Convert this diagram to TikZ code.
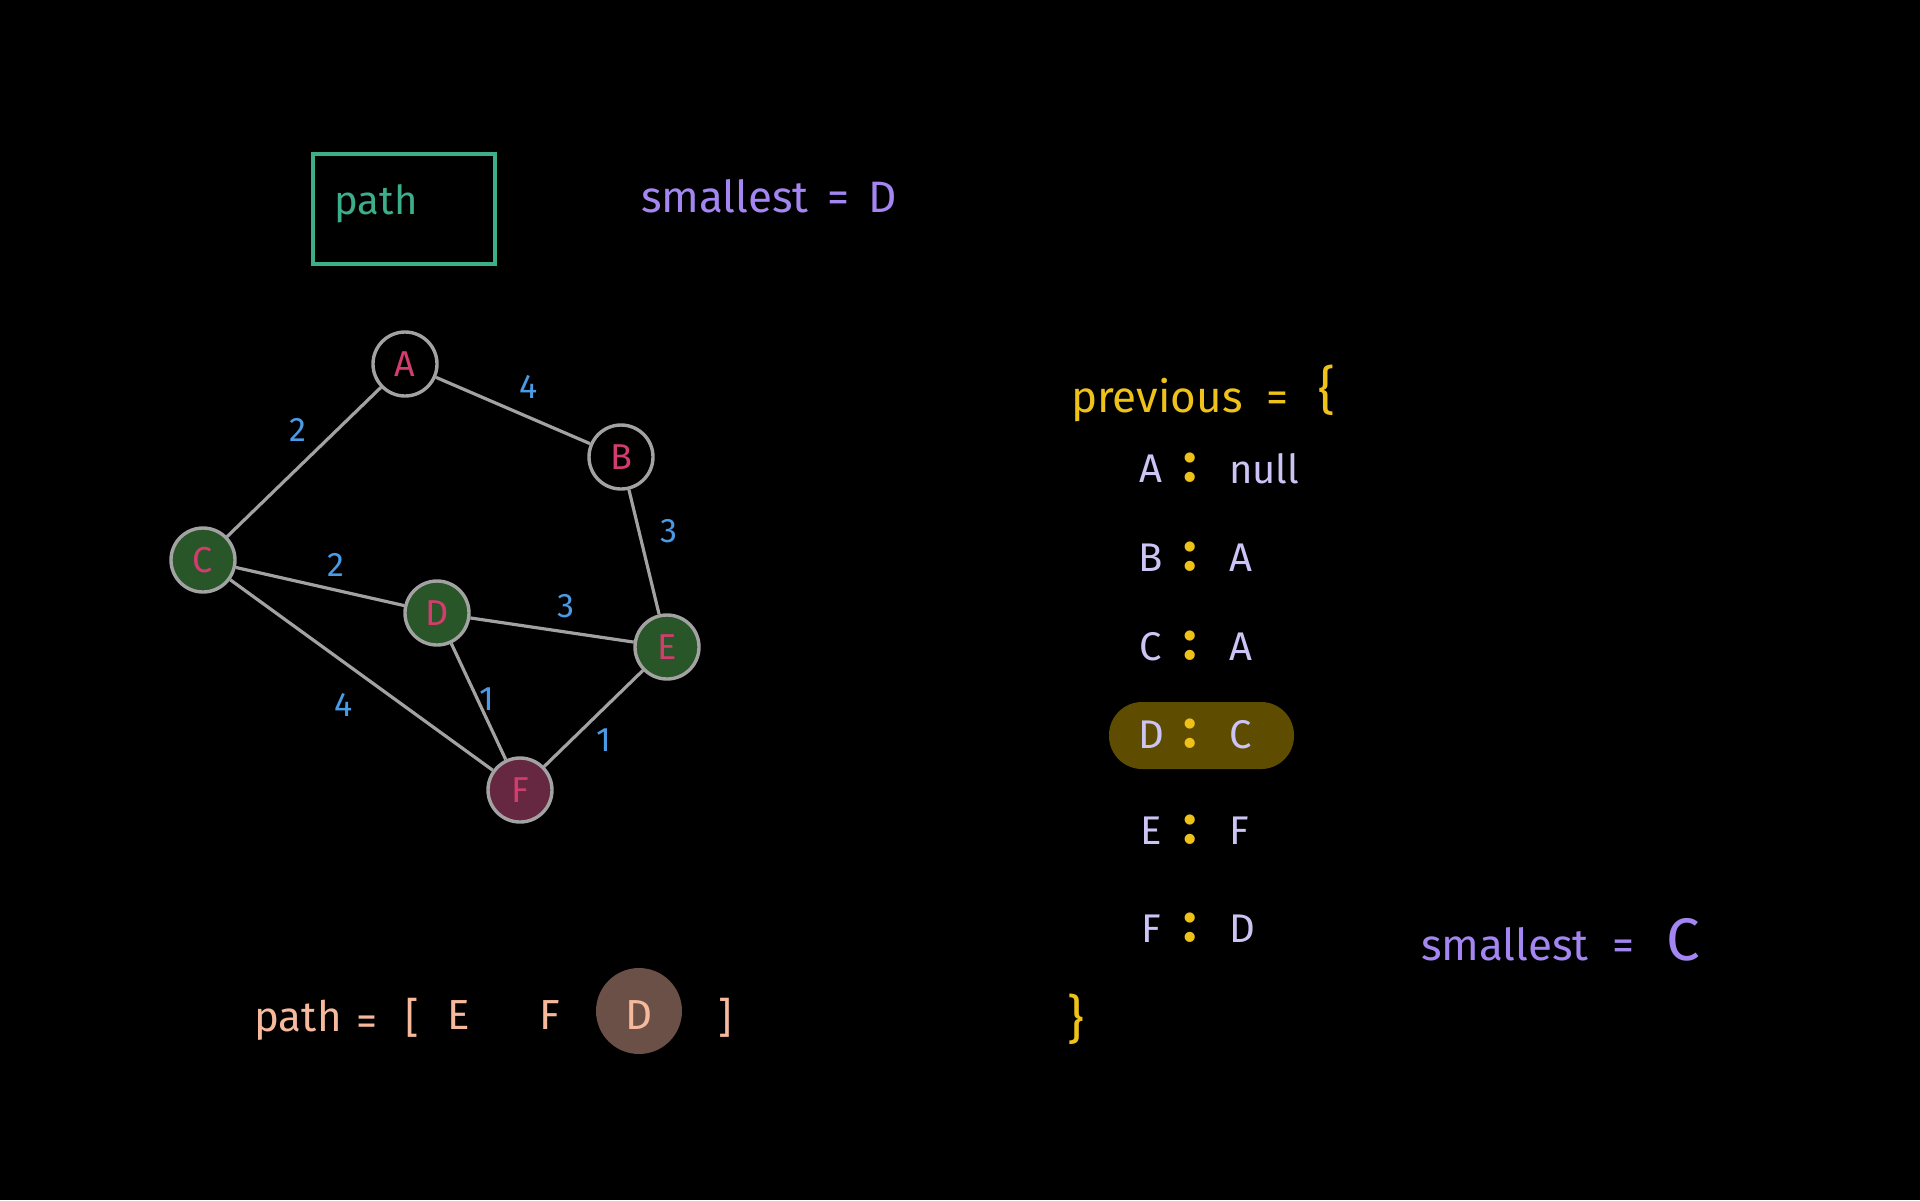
\documentclass[tikz,border=0pt]{standalone}
\usepackage{fontspec}
\setmainfont{Fira Sans}
\definecolor{edgegray}{HTML}{A2A2A2}
\definecolor{visitgreen}{HTML}{285628}
\definecolor{endwine}{HTML}{662840}
\definecolor{crimson}{HTML}{D23C6E}
\definecolor{wblue}{HTML}{4A9BE6}
\definecolor{teal}{HTML}{3DAE8A}
\definecolor{violet}{HTML}{A486F2}
\definecolor{gold}{HTML}{EFC21A}
\definecolor{lav}{HTML}{CBC4F4}
\definecolor{pillbg}{HTML}{5E4C00}
\definecolor{peach}{HTML}{F6B99C}
\definecolor{dotbg}{HTML}{6A5046}
\begin{document}
\begin{tikzpicture}[x=0.5pt,y=-0.5pt,
  vertex/.style={circle, draw=edgegray, line width=1.7pt, minimum size=32pt,
    inner sep=0pt, text=crimson, font=\fontsize{18}{18}\selectfont},
  link/.style={draw=edgegray, line width=1.6pt},
  weight/.style={text=wblue, font=\fontsize{17}{17}\selectfont},
  mapkey/.style={text=lav, font=\fontsize{20}{20}\selectfont},
  mapsep/.style={text=gold, font=\bfseries\fontsize{28}{28}\selectfont},
  label/.style={font=\fontsize{22}{22}\selectfont},
  pathtxt/.style={text=peach, font=\fontsize{21}{21}\selectfont}]

% canvas
\path[fill=black] (0,0) rectangle (1920,1200);

% boxed heading
\node[draw=teal, line width=2pt, minimum width=91pt, minimum height=55pt, inner sep=0pt]
  (box) at (403.5,208.5) {};
\node[text=teal, font=\fontsize{20}{20}\selectfont] (boxlbl) at (376,204) {path};

\node[label, text=violet, anchor=west] (small1) at (634,196) {smallest \,=\, D};

% graph
\node[vertex] (A) at (405,364) {A};
\node[vertex] (B) at (621,457) {B};
\node[vertex, fill=visitgreen] (C) at (203,560) {C};
\node[vertex, fill=visitgreen] (D) at (437,613) {D};
\node[vertex, fill=visitgreen] (E) at (667,647) {E};
\node[vertex, fill=endwine] (F) at (520,790) {F};

\draw[link] (A) -- (B);
\draw[link] (A) -- (C);
\draw[link] (B) -- (E);
\draw[link] (C) -- (D);
\draw[link] (D) -- (E);
\draw[link] (C) -- (F);
\draw[link] (D) -- (F);
\draw[link] (E) -- (F);

\node[weight] (wab) at (529,387) {4};
\node[weight] (wac) at (298,430) {2};
\node[weight] (wbe) at (669,531) {3};
\node[weight] (wcd) at (336,565) {2};
\node[weight] (wde) at (566,606) {3};
\node[weight] (wcf) at (344,705) {4};
\node[weight] (wdf) at (487,699) {1};
\node[weight] (wef) at (604,740) {1};

% previous map
\node[label, text=gold, anchor=west] (prev) at (1064,400) {previous \;=};
\node[text=gold, font=\fontsize{26}{26}\selectfont] (lbrace) at (1327,390) {\{};

\fill[pillbg, rounded corners=16.5pt] (1109,702) rectangle (1294,769);

\foreach \k/\v/\y in {A/null/469, B/A/558, C/A/647, D/C/735, E/F/831, F/D/929}{
  \node[mapkey] (key\k) at (1151,\y) {\k};
  \node[mapsep] (sep\k) at (1190,\y-1) {:};
  \node[mapkey, anchor=west] (val\k) at (1222,\y) {\v};
}

\node[text=gold, font=\fontsize{26}{26}\selectfont] (rbrace) at (1076,1019) {\}};

\node[label, text=violet, anchor=west] (small2) at (1414,940)
  {smallest\hspace{12pt}=\hspace{16pt}{\fontsize{30}{30}\selectfont C}};

% resulting path
\fill[dotbg] (639,1011) circle (21.5pt);
\node[pathtxt] (plbl) at (298,1020) {path};
\node[pathtxt] (peq) at (367,1026) {=};
\node[pathtxt] (pl) at (412,1018) {[};
\node[pathtxt] (pE) at (459,1015) {E};
\node[pathtxt] (pF) at (550,1015) {F};
\node[pathtxt] (pD) at (639,1015) {D};
\node[pathtxt] (pr) at (725,1018) {]};

\end{tikzpicture}
\end{document}
